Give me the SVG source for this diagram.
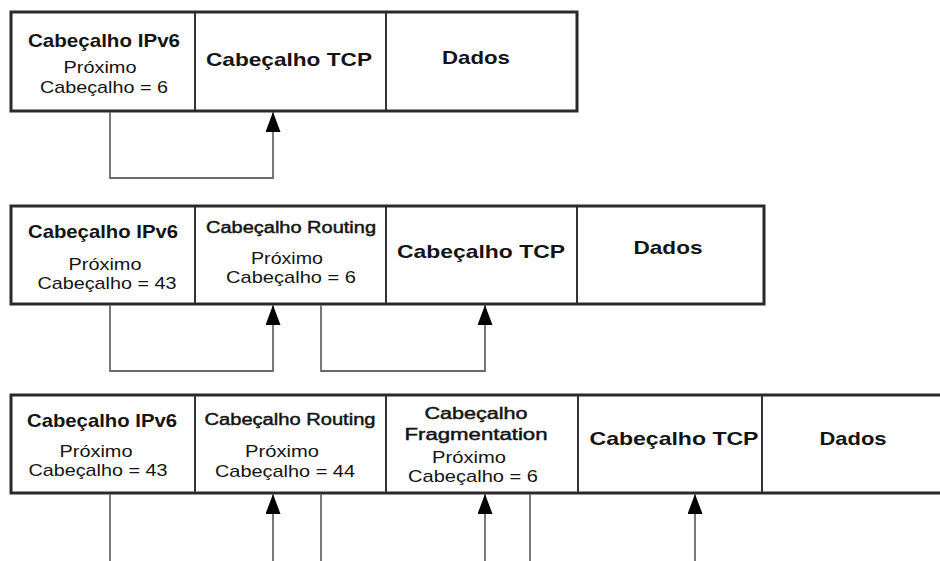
<svg xmlns="http://www.w3.org/2000/svg" width="940" height="561" viewBox="0 0 940 561">
<style>
text{font-family:"Liberation Sans",Arial,sans-serif;fill:#141414;text-anchor:middle}
.b{font-weight:bold;font-size:19px}
.r{font-size:17px}
.s{font-size:16px;stroke:#141414;stroke-width:0.45}
.cell{fill:#fff;stroke:#333;stroke-width:2}
.frame{fill:none;stroke:#2a2a2a;stroke-width:3}
.con{fill:none;stroke:#6a6a6a;stroke-width:1.8}
.arr{marker-end:url(#ah)}
</style>
<defs>
<marker id="ah" viewBox="0 0 20 15" refX="20" refY="7.5" markerWidth="20" markerHeight="15" markerUnits="userSpaceOnUse" orient="auto">
<path d="M0,0 L20,7.5 L0,15 z" fill="#000"/>
</marker>
</defs>
<rect width="940" height="561" fill="#fff"/>

<!-- Row 1 -->
<g id="r1-ipv6">
<rect class="cell" x="11" y="12" width="184" height="99"/>
<text class="b" x="104" y="47" textLength="152" lengthAdjust="spacingAndGlyphs">Cabeçalho IPv6</text>
<text class="r" x="100" y="73" textLength="73" lengthAdjust="spacingAndGlyphs">Próximo</text>
<text class="r" x="104" y="93" textLength="128" lengthAdjust="spacingAndGlyphs">Cabeçalho = 6</text>
</g>
<g id="r1-tcp">
<rect class="cell" x="195" y="12" width="191" height="99"/>
<text class="b" x="289" y="66" textLength="166" lengthAdjust="spacingAndGlyphs">Cabeçalho TCP</text>
</g>
<g id="r1-dados">
<rect class="cell" x="386" y="12" width="191" height="99"/>
<text class="b" x="476" y="64" textLength="68" lengthAdjust="spacingAndGlyphs">Dados</text>
</g>
<rect class="frame" x="11" y="12" width="566" height="99"/>

<!-- Row 2 -->
<g id="r2-ipv6">
<rect class="cell" x="11" y="206" width="184" height="98"/>
<text class="b" x="103" y="238" textLength="150" lengthAdjust="spacingAndGlyphs">Cabeçalho IPv6</text>
<text class="r" x="105" y="270" textLength="73" lengthAdjust="spacingAndGlyphs">Próximo</text>
<text class="r" x="107" y="289" textLength="139" lengthAdjust="spacingAndGlyphs">Cabeçalho = 43</text>
</g>
<g id="r2-routing">
<rect class="cell" x="195" y="206" width="191" height="98"/>
<text class="s" x="291" y="233" textLength="170" lengthAdjust="spacingAndGlyphs">Cabeçalho Routing</text>
<text class="r" x="287" y="264" textLength="72" lengthAdjust="spacingAndGlyphs">Próximo</text>
<text class="r" x="291" y="283" textLength="130" lengthAdjust="spacingAndGlyphs">Cabeçalho = 6</text>
</g>
<g id="r2-tcp">
<rect class="cell" x="386" y="206" width="191" height="98"/>
<text class="b" x="481" y="258" textLength="168" lengthAdjust="spacingAndGlyphs">Cabeçalho TCP</text>
</g>
<g id="r2-dados">
<rect class="cell" x="577" y="206" width="187" height="98"/>
<text class="b" x="668" y="254" textLength="69" lengthAdjust="spacingAndGlyphs">Dados</text>
</g>
<rect class="frame" x="11" y="206" width="753" height="98"/>

<!-- Row 3 -->
<g id="r3-ipv6">
<rect class="cell" x="11" y="395" width="184" height="98"/>
<text class="b" x="102" y="427" textLength="150" lengthAdjust="spacingAndGlyphs">Cabeçalho IPv6</text>
<text class="r" x="96" y="457" textLength="73" lengthAdjust="spacingAndGlyphs">Próximo</text>
<text class="r" x="98" y="476" textLength="139" lengthAdjust="spacingAndGlyphs">Cabeçalho = 43</text>
</g>
<g id="r3-routing">
<rect class="cell" x="195" y="395" width="191" height="98"/>
<text class="s" x="290" y="425" textLength="171" lengthAdjust="spacingAndGlyphs">Cabeçalho Routing</text>
<text class="r" x="282" y="457" textLength="74" lengthAdjust="spacingAndGlyphs">Próximo</text>
<text class="r" x="285" y="477" textLength="140" lengthAdjust="spacingAndGlyphs">Cabeçalho = 44</text>
</g>
<g id="r3-fragmentation">
<rect class="cell" x="386" y="395" width="192" height="98"/>
<text class="s" x="476" y="419" textLength="103" lengthAdjust="spacingAndGlyphs">Cabeçalho</text>
<text class="s" x="476" y="440" textLength="143" lengthAdjust="spacingAndGlyphs">Fragmentation</text>
<text class="r" x="469" y="463" textLength="74" lengthAdjust="spacingAndGlyphs">Próximo</text>
<text class="r" x="473" y="482" textLength="130" lengthAdjust="spacingAndGlyphs">Cabeçalho = 6</text>
</g>
<g id="r3-tcp">
<rect class="cell" x="578" y="395" width="184" height="98"/>
<text class="b" x="674" y="445" textLength="169" lengthAdjust="spacingAndGlyphs">Cabeçalho TCP</text>
</g>
<g id="r3-dados">
<rect class="cell" x="762" y="395" width="200" height="98"/>
<text class="b" x="853" y="445" textLength="67" lengthAdjust="spacingAndGlyphs">Dados</text>
</g>
<rect class="frame" x="11" y="395" width="951" height="98"/>

<!-- Connectors -->
<g id="connectors">
<path class="con arr" d="M110,112 V178 H273 V112"/>
<path class="con arr" d="M110,305 V371 H273 V305"/>
<path class="con arr" d="M321,305 V371 H485 V305"/>
<path class="con" d="M110,494 V561"/>
<path class="con arr" d="M273,561 V494"/>
<path class="con" d="M321,494 V561"/>
<path class="con arr" d="M485,561 V494"/>
<path class="con" d="M530,494 V561"/>
<path class="con arr" d="M695,561 V494"/>
</g>
</svg>
